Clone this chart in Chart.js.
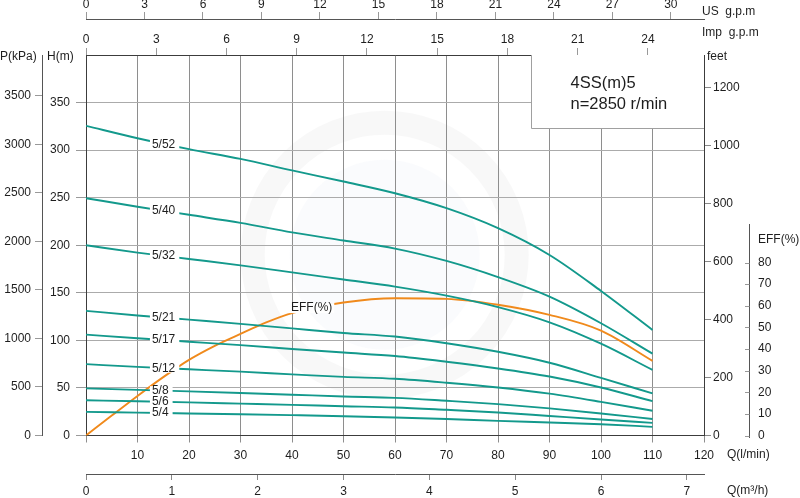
<!DOCTYPE html>
<html><head><meta charset="utf-8">
<script src="https://cdn.jsdelivr.net/npm/chart.js@4.4.1/dist/chart.umd.min.js"></script>
<style>html,body{margin:0;padding:0;background:#fff}#wrap{width:800px;height:498px}</style>
</head><body><div id="wrap"><canvas id="c" width="800" height="498"></canvas></div>
<script>
// ---- data ----
const flow = [0, 10, 20, 30, 40, 50, 60, 70, 80, 90, 100, 110];          // Q (l/min)
const curveNames = ['5/52', '5/40', '5/32', '5/21', '5/17', '5/12', '5/8', '5/6', '5/4'];
const h52 = [325.5, 312.5, 301, 290.8, 278.7, 267, 254.7, 239, 218, 189.8, 152, 111];
const h40 = [249.5, 240.5, 232, 223.5, 213.5, 205, 196.5, 183.5, 166.5, 146, 118, 86];
const h32 = [200, 192.3, 185.6, 178.9, 171.5, 164, 156.5, 147, 135, 119, 96.5, 69];
const h21 = [131, 126.2, 121.8, 117.4, 112.6, 107.8, 104, 97, 88, 76.5, 60.6, 44.2];
const h17 = [106, 102.2, 98.6, 95, 91, 87.2, 83.5, 77.5, 70.5, 62, 50.5, 36.1];
const h12 = [75, 72.1, 69.6, 67.1, 64.3, 61.6, 59.6, 55.5, 50.5, 44, 35.4, 26];
const h8  = [49.5, 48, 46.4, 44.7, 42.9, 41, 39.6, 36.5, 33, 28.5, 23.2, 17.3];
const h6  = [37, 36, 34.8, 33.5, 32.2, 30.8, 29.5, 27, 24.2, 20.5, 16.8, 13.3];
const h4  = [24.8, 24, 23.2, 22.4, 21.4, 20.3, 18.9, 17.3, 15.4, 13.7, 11.9, 9.1];
const effFlow = [0, 5, 10, 15, 20, 25, 30, 35, 40, 50, 60, 70, 80, 90, 100, 110];
const effVals = [0, 9.2, 18.3, 27, 35, 41.5, 47, 52.3, 56.6, 61.5, 63.5, 63.2, 60.5, 55.8, 48.5, 34.5];

// tick labels
const lpmTicks = [0, 10, 20, 30, 40, 50, 60, 70, 80, 90, 100, 110, 120];
const m3Ticks = [0, 1, 2, 3, 4, 5, 6, 7];
const impTicks = [0, 3, 6, 9, 12, 15, 18, 21, 24];
const usTicks = [0, 3, 6, 9, 12, 15, 18, 21, 24, 27, 30];
const hTicks = [0, 50, 100, 150, 200, 250, 300, 350];
const pTicks = [0, 500, 1000, 1500, 2000, 2500, 3000, 3500];
const ftTicks = [0, 200, 400, 600, 800, 1000, 1200];
const effTicks = [0, 10, 20, 30, 40, 50, 60, 70, 80];

// ---- chart ----
const FONT = "'Liberation Sans', Arial, sans-serif";
const TXT = '#1e1e1e';
const TEAL = '#13998c';
const ORANGE = '#f08a1c';
const FRAME = '#3c3c3c';
const HMAX = 400, QMAX = 120;

const seriesH = [h52, h40, h32, h21, h17, h12, h8, h6, h4];
const datasets = seriesH.map((arr, i) => ({
  label: curveNames[i],
  data: flow.map((q, k) => ({x: q, y: arr[k]})),
  borderColor: TEAL, borderWidth: 1.9, pointRadius: 0,
  cubicInterpolationMode: 'monotone', xAxisID: 'x', yAxisID: 'h', fill: false
}));
datasets.push({
  label: 'EFF(%)',
  data: effFlow.map((q, k) => ({x: q, y: effVals[k]})),
  borderColor: ORANGE, borderWidth: 1.9, pointRadius: 0,
  cubicInterpolationMode: 'monotone', xAxisID: 'x', yAxisID: 'eff', fill: false
});

function fixTicks(list) { return s => { s.ticks = list.map(v => ({value: v})); }; }
function fixW(w) { return s => { s.width = w; }; }
function fixH(h) { return s => { s.height = h; }; }
const tickFont = {family: FONT, size: 12};
const plain = v => String(v);

function interp(xs, ys, q) {
  for (let i = 0; i < xs.length - 1; i++) {
    if (q >= xs[i] && q <= xs[i + 1]) {
      const t = (q - xs[i]) / (xs[i + 1] - xs[i]);
      return ys[i] + t * (ys[i + 1] - ys[i]);
    }
  }
  return ys[ys.length - 1];
}

const extras = {
  id: 'extras',
  beforeDraw(chart) {
    const ctx = chart.ctx, x = chart.scales.x, h = chart.scales.h;
    ctx.save();
    ctx.fillStyle = '#fff';
    ctx.fillRect(0, 0, chart.width, chart.height);
    // faint watermark ring
    const cx = x.getPixelForValue(58), cy = h.getPixelForValue(190);
    ctx.strokeStyle = 'rgba(120,120,130,0.055)';
    ctx.lineWidth = 24;
    ctx.beginPath(); ctx.arc(cx, cy, 132, 0, Math.PI * 2); ctx.stroke();
    ctx.fillStyle = 'rgba(150,180,210,0.05)';
    ctx.beginPath(); ctx.arc(cx, cy, 95, 0, Math.PI * 2); ctx.fill();
    ctx.restore();
  },
  beforeDatasetsDraw(chart) {
    const ctx = chart.ctx, a = chart.chartArea, x = chart.scales.x, h = chart.scales.h;
    ctx.save();
    const bx = Math.round(x.getPixelForValue(86.5)) + 0.5;
    const by = Math.round(h.getPixelForValue(323)) + 0.5;
    ctx.fillStyle = '#fff';
    ctx.fillRect(bx, a.top, a.right - bx, by - a.top);
    ctx.strokeStyle = '#a0a0a0'; ctx.lineWidth = 1;
    ctx.beginPath();
    ctx.moveTo(bx, a.top); ctx.lineTo(bx, by); ctx.lineTo(a.right, by);
    ctx.stroke();
    ctx.fillStyle = TXT;
    ctx.font = '16.5px ' + FONT;
    ctx.textAlign = 'left'; ctx.textBaseline = 'middle';
    ctx.fillText('4SS(m)5', bx + 39, 83);
    ctx.fillText('n=2850 r/min', bx + 39, 104);
    ctx.restore();
  },
  afterDatasetsDraw(chart) {
    const ctx = chart.ctx, x = chart.scales.x, h = chart.scales.h, e = chart.scales.eff;
    ctx.save();
    ctx.font = '12px ' + FONT;
    ctx.textBaseline = 'middle'; ctx.textAlign = 'left';
    const lx = x.getPixelForValue(12.8);
    seriesH.forEach((arr, i) => {
      const name = curveNames[i];
      const w = ctx.measureText(name).width;
      const yy = h.getPixelForValue(interp(flow, arr, 15.5));
      ctx.fillStyle = '#fff';
      ctx.fillRect(lx - 2, yy - 4.5, w + 6, 9);
      ctx.fillStyle = TXT;
      ctx.fillText(name, lx, yy);
    });
    // EFF label on curve
    const ex = x.getPixelForValue(39.8);
    const ey = e.getPixelForValue(interp(effFlow, effVals, 41)) - 4;
    const ew = ctx.measureText('EFF(%)').width;
    ctx.fillStyle = '#fff';
    ctx.fillRect(ex - 3, ey - 5, ew + 5, 10);
    ctx.fillStyle = TXT;
    ctx.fillText('EFF(%)', ex, ey);
    ctx.restore();
  },
  afterDraw(chart) {
    const ctx = chart.ctx, e = chart.scales.eff;
    ctx.save();
    // EFF axis line with ticks on its left
    const ax = Math.round(e.left) + 1.5;
    ctx.strokeStyle = '#555'; ctx.lineWidth = 1;
    ctx.beginPath();
    ctx.moveTo(ax, e.getPixelForValue(0) + 2.5);
    ctx.lineTo(ax, 224);
    ctx.stroke();
    ctx.strokeStyle = '#999';
    effTicks.forEach(v => {
      const yy = Math.round(e.getPixelForValue(v)) + 0.5;
      ctx.beginPath(); ctx.moveTo(ax - 4.5, yy); ctx.lineTo(ax, yy); ctx.stroke();
    });
    // axis titles
    ctx.fillStyle = TXT;
    ctx.font = '12px ' + FONT;
    ctx.textBaseline = 'middle'; ctx.textAlign = 'left';
    ctx.fillText('US  g.p.m', 702, 12);
    ctx.fillText('Imp  g.p.m', 702, 32.5);
    ctx.fillText('feet', 707, 57);
    ctx.fillText('Q(l/min)', 727, 454.5);
    ctx.fillText('Q(m\u00B3/h)', 727, 490.5);
    ctx.fillText('EFF(%)', 758, 240);
    ctx.fillText('P(kPa)', 0, 57);
    ctx.fillText('H(m)', 47, 57);
    ctx.restore();
  }
};

new Chart(document.getElementById('c'), {
  type: 'line',
  data: {datasets},
  plugins: [extras],
  options: {
    responsive: false, animation: false, devicePixelRatio: 1,
    layout: {padding: 0},
    plugins: {legend: {display: false}, tooltip: {enabled: false}},
    scales: {
      x: {
        type: 'linear', position: 'bottom', weight: 0, min: 0, max: QMAX,
        afterBuildTicks: fixTicks(lpmTicks), afterFit: fixH(38.5),
        ticks: {autoSkip: false, maxRotation: 0, padding: 6, font: tickFont, color: TXT,
          callback: v => (v === 0 ? '' : String(v))},
        grid: {color: c => (c.tick && (c.tick.value === 0 || c.tick.value === QMAX)) ? 'rgba(0,0,0,0)' : '#8e8e8e',
          tickColor: '#8e8e8e', tickLength: 7, lineWidth: 1},
        border: {color: FRAME, width: 1}
      },
      xm3: {
        type: 'linear', position: 'bottom', weight: 1, min: 0, max: QMAX / 16.6667,
        afterBuildTicks: fixTicks(m3Ticks), afterFit: fixH(24),
        ticks: {autoSkip: false, maxRotation: 0, padding: 4, font: tickFont, color: TXT, callback: plain},
        grid: {drawOnChartArea: false, tickLength: 6, color: '#888'},
        border: {color: '#555', width: 1}
      },
      ximp: {
        type: 'linear', position: 'top', weight: 0, min: 0, max: QMAX / 4.54609,
        afterBuildTicks: fixTicks(impTicks), afterFit: fixH(36),
        ticks: {autoSkip: false, maxRotation: 0, padding: 1, font: tickFont, color: TXT, callback: plain},
        grid: {drawOnChartArea: false, tickLength: 7, color: '#999'},
        border: {color: FRAME, width: 1}
      },
      xus: {
        type: 'linear', position: 'top', weight: 1, min: 0, max: QMAX / 3.78541,
        afterBuildTicks: fixTicks(usTicks), afterFit: fixH(19),
        ticks: {autoSkip: false, maxRotation: 0, padding: 0, font: tickFont, color: TXT, callback: plain},
        grid: {drawOnChartArea: false, tickLength: 7, color: '#999'},
        border: {color: '#555', width: 1}
      },
      h: {
        type: 'linear', position: 'left', weight: 0, min: 0, max: HMAX,
        afterBuildTicks: fixTicks(hTicks), afterFit: fixW(44),
        ticks: {padding: 6, font: tickFont, color: TXT, callback: plain},
        grid: {color: c => (c.tick && c.tick.value === 0) ? 'rgba(0,0,0,0)' : '#ababab',
          tickColor: '#9a9a9a', tickLength: 10, lineWidth: 1},
        border: {color: FRAME, width: 1}
      },
      p: {
        type: 'linear', position: 'left', weight: 1, min: 0, max: HMAX * 9.80665,
        afterBuildTicks: fixTicks(pTicks), afterFit: fixW(42),
        ticks: {padding: 4, font: tickFont, color: TXT, callback: plain},
        grid: {drawOnChartArea: false, tickLength: 7, color: '#999'},
        border: {color: '#555', width: 1}
      },
      ft: {
        type: 'linear', position: 'right', weight: 0, min: 0, max: HMAX * 3.28084,
        afterBuildTicks: fixTicks(ftTicks), afterFit: fixW(44),
        ticks: {padding: 2, font: tickFont, color: TXT, callback: plain},
        grid: {drawOnChartArea: false, tickLength: 7, color: '#888'},
        border: {color: FRAME, width: 1}
      },
      eff: {
        type: 'linear', position: 'right', weight: 1, min: 0, max: 176,
        afterBuildTicks: fixTicks(effTicks), afterFit: fixW(52),
        ticks: {padding: 10, font: tickFont, color: TXT, callback: plain},
        grid: {display: false, drawTicks: false},
        border: {display: false}
      }
    }
  }
});
</script>
</body></html>
